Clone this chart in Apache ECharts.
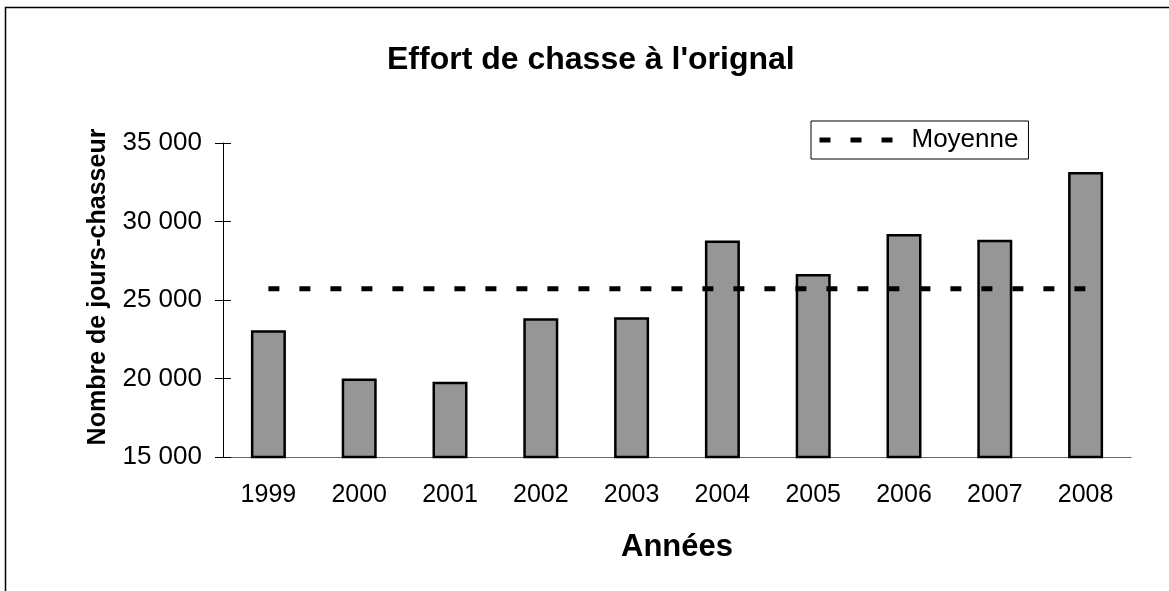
<!DOCTYPE html>
<html>
<head>
<meta charset="utf-8">
<script src="https://cdn.jsdelivr.net/npm/echarts@6/dist/echarts.min.js"></script>
<style>
  html, body { margin: 0; padding: 0; background: #fff; }
  #chart { width: 1169px; height: 591px; }
</style>
</head>
<body>
<div id="chart"></div>
<script>
// données
var annees = ['1999', '2000', '2001', '2002', '2003', '2004', '2005', '2006', '2007', '2008'];
var effort = [23080, 20000, 19790, 23830, 23900, 28790, 26660, 29210, 28830, 33150];
var moyenne = [25720, 25720, 25720, 25720, 25720, 25720, 25720, 25720, 25720, 25720];
var yTicks = { min: 15000, max: 35000, interval: 5000 };

var font = 'Liberation Sans, Arial, sans-serif';

function fmt(v) {
  return String(v).replace(/\B(?=(\d{3})+(?!\d))/g, ' ');
}

var chart = echarts.init(document.getElementById('chart'));
chart.setOption({
  animation: false,
  backgroundColor: '#fff',
  textStyle: { fontFamily: font, color: '#000' },
  title: {
    text: "Effort de chasse à l'orignal",
    left: 387,
    top: 44,
    padding: 0,
    textStyle: { fontFamily: font, fontSize: 32, fontWeight: 'bold', color: '#000' }
  },
  legend: {
    data: ['Moyenne'],
    left: 811,
    top: 121,
    padding: [6, 10, 6, 6],
    borderColor: '#000',
    borderWidth: 1,
    itemWidth: 73,
    itemHeight: 12,
    itemStyle: { opacity: 0 },
    lineStyle: { color: '#000', width: 5, type: [11, 20] },
    textStyle: { fontFamily: font, fontSize: 26, color: '#000', padding: [0, 0, 0, 14] }
  },
  graphic: [{
    type: 'rect',
    shape: { x: 5.5, y: 7.5, width: 1300, height: 700 },
    style: { fill: 'none', stroke: '#000', lineWidth: 1.5 },
    silent: true
  }],
  grid: { left: 223, right: 38, top: 143, bottom: 134, containLabel: false },
  xAxis: [{
    type: 'category',
    data: annees,
    position: 'bottom',
    name: 'Années',
    nameLocation: 'middle',
    nameGap: 75,
    nameTextStyle: { fontFamily: font, fontSize: 31, fontWeight: 'bold', color: '#000' },
    axisLine: { lineStyle: { color: '#666', width: 1 } },
    axisTick: { length: 8, lineStyle: { color: '#000' } },
    axisLabel: { fontFamily: font, fontSize: 25, color: '#000', margin: 26 }
  }, {
    type: 'category',
    data: annees,
    position: 'bottom',
    axisLine: { show: false },
    axisTick: { inside: true, length: 7, lineStyle: { color: '#000' } },
    axisLabel: { show: false }
  }],
  yAxis: [{
    type: 'value',
    min: yTicks.min,
    max: yTicks.max,
    interval: yTicks.interval,
    name: 'Nombre de jours-chasseur',
    nameLocation: 'middle',
    nameGap: 112,
    nameTextStyle: { fontFamily: font, fontSize: 25, fontWeight: 'bold', color: '#000', padding: [0, 0, 0, 26] },
    splitLine: { show: false },
    axisLine: { show: true, lineStyle: { color: '#000', width: 1 } },
    axisTick: { show: true, length: 8, lineStyle: { color: '#000' } },
    axisLabel: { fontFamily: font, fontSize: 26, color: '#000', margin: 21, formatter: fmt }
  }, {
    type: 'value',
    min: yTicks.min,
    max: yTicks.max,
    interval: yTicks.interval,
    position: 'left',
    splitLine: { show: false },
    axisLine: { show: false },
    axisTick: { show: true, inside: true, length: 8, lineStyle: { color: '#000' } },
    axisLabel: { show: false }
  }],
  series: [{
    name: 'Effort',
    type: 'bar',
    data: effort,
    barWidth: 35,
    itemStyle: { color: '#969696', borderColor: '#000', borderWidth: 2.5 }
  }, {
    name: 'Moyenne',
    type: 'line',
    data: moyenne,
    symbol: 'none',
    itemStyle: { color: '#000' },
    lineStyle: { color: '#000', width: 5, type: [11, 20] },
    z: 5
  }]
});
</script>
</body>
</html>
